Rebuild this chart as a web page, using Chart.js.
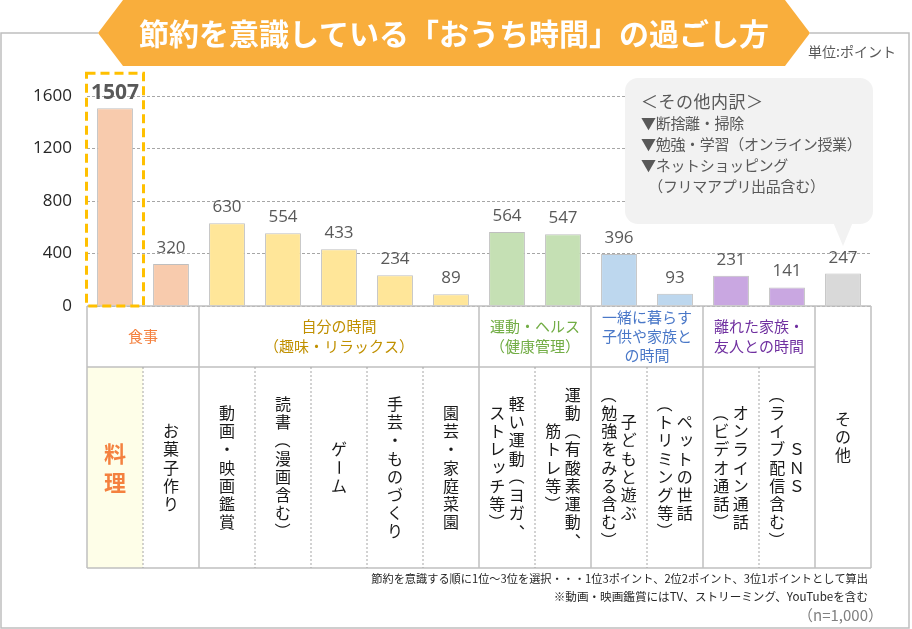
<!DOCTYPE html>
<html lang="ja">
<head>
  <meta charset="UTF-8">
  <title>節約を意識している「おうち時間」の過ごし方</title>
  <script src="https://cdn.jsdelivr.net/npm/chart.js"></script>
  <style>
    body { margin: 0; background: #fff; }
    canvas { display: block; }
  </style>
</head>
<body>
  <canvas id="chart" width="912" height="629"></canvas>
  <script>
    // data
    const categories = ['料理', 'お菓子作り', '動画・映画鑑賞', '読書（漫画含む）', 'ゲーム', '手芸・ものづくり',
      '園芸・家庭菜園', '軽い運動（ヨガ、ストレッチ等）', '運動（有酸素運動、筋トレ等）', '子どもと遊ぶ（勉強をみる含む）',
      'ペットの世話（トリミング等）', 'オンライン通話（ビデオ通話）', 'ＳＮＳ（ライブ配信含む）', 'その他'];
    const values = [1507, 320, 630, 554, 433, 234, 89, 564, 547, 396, 93, 231, 141, 247];
    // vertical tick labels, columns listed right to left
    const tickLabels = [
      ['料理'], ['お菓子作り'], ['動画・映画鑑賞'], ['読書（漫画含む）'], ['ゲーム'], ['手芸・ものづくり'], ['園芸・家庭菜園'],
      ['軽い運動（ヨガ、', 'ストレッチ等）'], ['運動（有酸素運動、', '筋トレ等）'], ['子どもと遊ぶ', '（勉強をみる含む）'],
      ['ペットの世話', '（トリミング等）'], ['オンライン通話', '（ビデオ通話）'], ['ＳＮＳ', '（ライブ配信含む）'], ['その他']
    ];
    const groupLabels = [['食事'], ['自分の時間', '（趣味・リラックス）'], ['運動・ヘルス', '（健康管理）'],
      ['一緒に暮らす', '子供や家族と', 'の時間'], ['離れた家族・', '友人との時間'], []];
    const groupStart = [0, 2, 7, 9, 11, 13];
    const groupEnd = [1, 6, 8, 10, 12, 13];
    const groupText = ['#f4813f', '#c09000', '#72ad45', '#4a78c8', '#7030a0', '#595959'];
    const groupFill = ['#f8cbad', '#ffe699', '#c5e0b4', '#bdd7ee', '#c9a7e1', '#d9d9d9'];
    const yTicks = [0, 400, 800, 1200, 1600];
    const otherNote = ['＜その他内訳＞', '▼断捨離・掃除', '▼勉強・学習（オンライン授業）', '▼ネットショッピング', '　（フリマアプリ出品含む）'];
    const notes = ['節約を意識する順に1位～3位を選択・・・1位3ポイント、2位2ポイント、3位1ポイントとして算出',
      '※動画・映画鑑賞にはTV、ストリーミング、YouTubeを含む'];

    const JP = '"Noto Sans CJK JP", "Noto Sans", sans-serif';
    const NUM = '"Open Sans", "Noto Sans", sans-serif';
    const TABLE_TOP = 306, HEAD_BOTTOM = 367, TABLE_BOTTOM = 568;

    const barColors = values.map((v, i) => {
      const g = groupStart.findIndex((s, k) => i >= s && i <= groupEnd[k]);
      return groupFill[g];
    });

    function drawVertical(ctx, str, cx, cy, pitch) {
      const chars = Array.from(str);
      let y = cy - chars.length * pitch / 2 + pitch / 2;
      for (const ch of chars) {
        ctx.save();
        ctx.translate(cx, y);
        if ('（）ー～'.includes(ch)) ctx.rotate(Math.PI / 2);
        else if ('、。'.includes(ch)) ctx.translate(pitch * 0.55, -pitch * 0.5);
        else if ('ッャュョァィゥェォっゃゅょ'.includes(ch)) ctx.translate(pitch * 0.1, -pitch * 0.1);
        ctx.fillText(ch, 0, 0);
        ctx.restore();
        y += pitch;
      }
    }

    function line(ctx, x1, y1, x2, y2) {
      ctx.beginPath();
      ctx.moveTo(x1, y1);
      ctx.lineTo(x2, y2);
      ctx.stroke();
    }

    const decorations = {
      id: 'decorations',
      afterDraw(chart) {
        const ctx = chart.ctx;
        const x = chart.scales.x, y = chart.scales.y;
        const half = (x.getPixelForValue(1) - x.getPixelForValue(0)) / 2;
        const left = x.getPixelForValue(0) - half;
        const right = x.getPixelForValue(categories.length - 1) + half;
        const edge = i => x.getPixelForValue(i) - half;

        // table
        ctx.save();
        const pr = edge(0), pw = edge(1) - pr;
        ctx.fillStyle = '#fefee8';
        ctx.fillRect(pr, HEAD_BOTTOM, pw, TABLE_BOTTOM - HEAD_BOTTOM);
        ctx.strokeStyle = '#bfbfbf';
        ctx.lineWidth = 1.5;
        line(ctx, left, TABLE_TOP, right, TABLE_TOP);
        line(ctx, left, TABLE_BOTTOM, right, TABLE_BOTTOM);
        line(ctx, left, HEAD_BOTTOM, edge(13), HEAD_BOTTOM);
        groupStart.forEach(s => line(ctx, edge(s), TABLE_TOP, edge(s), TABLE_BOTTOM));
        line(ctx, right, TABLE_TOP, right, TABLE_BOTTOM);
        ctx.setLineDash([2, 2]);
        ctx.lineWidth = 1;
        ctx.strokeStyle = '#a6a6a6';
        for (let i = 1; i < categories.length; i++) {
          if (!groupStart.includes(i)) line(ctx, edge(i), HEAD_BOTTOM, edge(i), TABLE_BOTTOM);
        }
        ctx.setLineDash([]);

        // group headers
        ctx.textAlign = 'center';
        ctx.textBaseline = 'middle';
        ctx.font = '15px ' + JP;
        groupLabels.forEach((lines, g) => {
          const cx = (edge(groupStart[g]) + edge(groupEnd[g] + 1)) / 2;
          const lh = lines.length > 2 ? 19 : 20;
          const cy = (TABLE_TOP + HEAD_BOTTOM) / 2 - (lines.length - 1) * lh / 2;
          ctx.fillStyle = groupText[g];
          lines.forEach((t, k) => ctx.fillText(t, cx, cy + k * lh));
        });

        // vertical item labels
        tickLabels.forEach((cols, i) => {
          const cx = x.getPixelForValue(i);
          if (i === 0) {
            ctx.font = 'bold 22px ' + JP;
            ctx.fillStyle = groupText[0];
            drawVertical(ctx, cols[0], cx, 468, 29);
            return;
          }
          const last = i === categories.length - 1;
          const cy = last ? (TABLE_TOP + TABLE_BOTTOM) / 2 : (HEAD_BOTTOM + TABLE_BOTTOM) / 2;
          ctx.font = '16px ' + JP;
          ctx.fillStyle = '#1a1a1a';
          cols.forEach((c, k) => {
            const off = ((cols.length - 1) / 2 - k) * 19.5;
            drawVertical(ctx, c, cx + off, cy, 18.1);
          });
        });

        // value labels
        const meta = chart.getDatasetMeta(0);
        meta.data.forEach((bar, i) => {
          ctx.fillStyle = '#595959';
          ctx.font = (i === 0 ? 'bold 21px ' : '17px ') + NUM;
          ctx.textBaseline = 'alphabetic';
          ctx.fillText(values[i], bar.x, bar.y - (i === 0 ? 9 : 11));
        });

        // dashed highlight round the first column
        ctx.strokeStyle = '#ffc000';
        ctx.lineWidth = 3;
        ctx.setLineDash([9, 5]);
        const hx = x.getPixelForValue(0);
        const top = y.getPixelForValue(values[0]) - 35;
        ctx.strokeRect(hx - 28.5, top, 57, y.getPixelForValue(0) - top);
        ctx.setLineDash([]);

        // outer frame
        ctx.strokeStyle = '#bfbfbf';
        ctx.lineWidth = 1.5;
        ctx.beginPath();
        ctx.moveTo(98, 33); ctx.lineTo(1, 33); ctx.lineTo(1, 628); ctx.lineTo(909, 628);
        ctx.lineTo(909, 33); ctx.lineTo(810, 33);
        ctx.stroke();

        // title banner
        ctx.fillStyle = '#f9ae3c';
        ctx.beginPath();
        ctx.moveTo(123, 0); ctx.lineTo(785, 0); ctx.lineTo(810, 33);
        ctx.lineTo(785, 66); ctx.lineTo(123, 66); ctx.lineTo(98, 33);
        ctx.closePath();
        ctx.fill();
        ctx.fillStyle = '#ffffff';
        ctx.font = 'bold 30px ' + JP;
        ctx.textBaseline = 'middle';
        ctx.fillText('節約を意識している「おうち時間」の過ごし方', 454, 34);

        ctx.fillStyle = '#595959';
        ctx.font = '14px ' + JP;
        ctx.textAlign = 'left';
        ctx.fillText('単位:ポイント', 808, 52);

        // callout for その他
        const tipX = x.getPixelForValue(13);
        ctx.fillStyle = '#f2f2f2';
        ctx.beginPath();
        ctx.roundRect(625, 78, 248, 146, 13);
        ctx.fill();
        ctx.beginPath();
        ctx.moveTo(tipX - 10, 222); ctx.lineTo(tipX + 10, 222); ctx.lineTo(tipX, 246);
        ctx.closePath();
        ctx.fill();
        ctx.fillStyle = '#595959';
        otherNote.forEach((t, k) => {
          ctx.font = (k === 0 ? '17px ' : '15px ') + JP;
          ctx.letterSpacing = k === 0 ? '0.5px' : '-0.3px';
          ctx.fillText(t, 641, 102 + k * 21);
        });
        ctx.letterSpacing = '0px';

        // notes
        ctx.textAlign = 'right';
        ctx.fillStyle = '#262626';
        ctx.font = '11.2px ' + JP;
        ctx.fillText(notes[0], 868, 579);
        ctx.font = '11.6px ' + JP;
        ctx.fillText(notes[1], 868, 597);
        ctx.fillStyle = '#7f7f7f';
        ctx.font = '15px ' + JP;
        ctx.fillText('（n=1,000）', 883, 615);
        ctx.restore();
      }
    };

    new Chart(document.getElementById('chart'), {
      type: 'bar',
      data: {
        labels: categories,
        datasets: [{
          data: values,
          backgroundColor: barColors,
          borderColor: '#bfbfbf',
          borderWidth: 1,
          categoryPercentage: 1,
          barPercentage: 0.64
        }]
      },
      options: {
        responsive: false,
        animation: false,
        layout: { padding: { top: 96, bottom: 323, left: 0, right: 41 } },
        plugins: { legend: { display: false }, tooltip: { enabled: false } },
        scales: {
          x: { display: false },
          y: {
            min: 0,
            max: 1600,
            afterFit: s => { s.width = 87; },
            afterBuildTicks: s => { s.ticks = yTicks.map(v => ({ value: v })); },
            ticks: { padding: 15, color: '#262626', font: { family: NUM, size: 17 }, callback: v => String(v) },
            grid: { color: '#a6a6a6', drawTicks: false },
            border: { display: false, dash: [3, 2] }
          }
        }
      },
      plugins: [decorations]
    });
  </script>
</body>
</html>
